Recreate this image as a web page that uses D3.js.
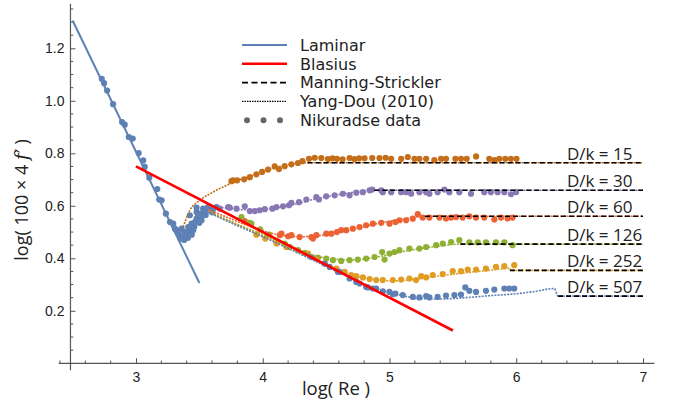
<!DOCTYPE html>
<html>
<head>
<meta charset="utf-8">
<script src="https://cdn.jsdelivr.net/npm/d3@7"></script>
<style>
  body { margin: 0; background: #fff; }
  svg text { fill: #222; }
</style>
</head>
<body>
<div id="chart"></div>
<script>
// Nikuradse friction-factor chart, log(Re) vs log(100 x 4f)

// --- data ---
var dkValues = [15, 30, 60, 126, 252, 507];
var dkColors = ["#C56E1A", "#8778B3", "#EB6235", "#8FB032", "#E19C24", "#5E81B5"];

// Manning-Strickler plateau level and where its dashed line starts
var msLevel = [0.764, 0.659, 0.560, 0.454, 0.354, 0.256];
var msStart = [4.354, 4.88, 5.28, 5.56, 5.95, 6.33];
var msEnd = 7;

var laminar = [[2.5, 1.306], [3.5, 0.306]];
var blasius = [[3.0, 0.75], [5.5, 0.125]];

// Yang-Dou (2010) curves, one per D/k
var yd15 = [[3.372,0.519],[3.425,0.583],[3.504,0.621],[3.596,0.649],[3.714,0.678],[3.806,0.697],[3.95,0.72],[4.1,0.745],[4.25,0.76],[4.354,0.764],[7,0.764]];
var yd30 = [[3.55,0.60],[3.7,0.592],[3.85,0.585],[4.0,0.586],[4.2,0.6],[4.4,0.624],[4.6,0.643],[4.75,0.654],[4.88,0.659],[7,0.659]];
var yd60 = [[3.57,0.585],[3.7,0.56],[3.85,0.53],[4.0,0.505],[4.15,0.487],[4.3,0.482],[4.5,0.49],[4.7,0.51],[4.9,0.532],[5.1,0.549],[5.28,0.56],[7,0.56]];
var yd126 = [[3.57,0.58],[3.8,0.53],[4.0,0.49],[4.2,0.45],[4.4,0.412],[4.55,0.397],[4.7,0.394],[4.9,0.405],[5.1,0.425],[5.3,0.441],[5.45,0.45],[5.56,0.454],[7,0.454]];
var yd252 = [[3.57,0.578],[3.8,0.527],[4.0,0.485],[4.2,0.441],[4.4,0.397],[4.6,0.353],[4.75,0.33],[4.9,0.318],[5.05,0.314],[5.2,0.32],[5.4,0.333],[5.6,0.345],[5.8,0.355],[5.95,0.362],[5.955,0.354],[7,0.354]];
var yd507 = [[3.57,0.575],[3.8,0.524],[4.0,0.482],[4.2,0.438],[4.4,0.392],[4.6,0.346],[4.8,0.302],[4.95,0.277],[5.1,0.258],[5.25,0.246],[5.4,0.245],[5.6,0.25],[5.8,0.258],[6.0,0.265],[6.15,0.274],[6.3,0.285],[6.33,0.256],[7,0.256]];

// Nikuradse measurements
var nik15 = [[3.753,0.694],[3.766,0.697],[3.798,0.697],[3.853,0.701],[3.898,0.709],[3.95,0.720],[3.995,0.729],[4.042,0.738],[4.094,0.750],[4.128,0.740],[4.173,0.751],[4.226,0.758],[4.278,0.763],[4.313,0.770],[4.365,0.779],[4.41,0.783],[4.462,0.782],[4.514,0.778],[4.55,0.781],[4.585,0.779],[4.63,0.777],[4.685,0.782],[4.724,0.778],[4.76,0.781],[4.803,0.781],[4.864,0.782],[4.921,0.782],[4.969,0.783],[5.013,0.779],[5.092,0.779],[5.144,0.786],[5.197,0.779],[5.236,0.779],[5.289,0.779],[5.354,0.774],[5.407,0.779],[5.446,0.779],[5.52,0.779],[5.564,0.779],[5.609,0.779],[5.683,0.788],[5.787,0.779],[5.827,0.774],[5.866,0.779],[5.913,0.779],[5.958,0.779],[6.002,0.779]];
var nik30 = [[3.661,0.589],[3.727,0.595],[3.74,0.593],[3.793,0.589],[3.858,0.598],[3.898,0.58],[3.937,0.58],[3.976,0.583],[4.016,0.587],[4.076,0.589],[4.108,0.595],[4.16,0.598],[4.207,0.602],[4.226,0.611],[4.286,0.614],[4.344,0.624],[4.423,0.633],[4.443,0.624],[4.501,0.636],[4.567,0.64],[4.632,0.646],[4.685,0.64],[4.738,0.65],[4.79,0.652],[4.843,0.659],[4.864,0.662],[4.935,0.659],[4.947,0.652],[5.013,0.652],[5.092,0.652],[5.131,0.652],[5.171,0.646],[5.236,0.652],[5.289,0.652],[5.315,0.646],[5.38,0.652],[5.433,0.662],[5.472,0.652],[5.551,0.652],[5.643,0.646],[5.748,0.652],[5.8,0.652],[5.853,0.652],[5.906,0.652],[5.958,0.644],[5.998,0.652]];
var nik60 = [[3.858,0.542],[4.134,0.488],[4.147,0.494],[4.2,0.484],[4.226,0.488],[4.291,0.481],[4.383,0.481],[4.396,0.475],[4.423,0.488],[4.501,0.494],[4.541,0.494],[4.585,0.5],[4.619,0.507],[4.659,0.507],[4.711,0.513],[4.764,0.519],[4.816,0.526],[4.869,0.532],[4.935,0.535],[5.0,0.532],[5.047,0.538],[5.079,0.545],[5.131,0.545],[5.184,0.551],[5.223,0.568],[5.262,0.555],[5.315,0.555],[5.394,0.555],[5.446,0.552],[5.486,0.555],[5.525,0.557],[5.577,0.555],[5.63,0.56],[5.683,0.555],[5.748,0.555],[5.827,0.548],[5.88,0.555],[5.932,0.552],[5.971,0.555]];
var nik126 = [[3.832,0.557],[3.892,0.535],[3.911,0.532],[3.98,0.51],[4.05,0.49],[4.12,0.462],[4.173,0.456],[4.213,0.443],[4.278,0.431],[4.331,0.421],[4.436,0.403],[4.501,0.399],[4.554,0.393],[4.619,0.39],[4.685,0.393],[4.75,0.395],[4.816,0.399],[4.882,0.405],[4.942,0.424],[4.961,0.395],[5.0,0.418],[5.039,0.424],[5.079,0.431],[5.157,0.437],[5.236,0.437],[5.289,0.443],[5.368,0.45],[5.42,0.456],[5.486,0.462],[5.551,0.469],[5.63,0.461],[5.696,0.461],[5.761,0.461],[5.84,0.461],[5.906,0.461],[5.971,0.45]];
var nik252 = [[3.95,0.49],[4.02,0.475],[4.108,0.456],[4.186,0.443],[4.357,0.418],[4.423,0.399],[4.488,0.38],[4.58,0.361],[4.646,0.348],[4.698,0.336],[4.738,0.332],[4.79,0.327],[4.843,0.321],[4.895,0.317],[4.947,0.317],[5.026,0.317],[5.092,0.319],[5.157,0.323],[5.21,0.317],[5.25,0.332],[5.289,0.327],[5.341,0.336],[5.42,0.34],[5.499,0.351],[5.564,0.351],[5.617,0.357],[5.683,0.357],[5.761,0.361],[5.84,0.367],[5.906,0.37],[5.984,0.374]];
var nik507 = [[2.730,1.084],[2.748,1.067],[2.772,1.039],[2.819,0.987],[2.890,0.919],[2.911,0.909],[2.943,0.862],[2.974,0.856],[3.021,0.801],[3.057,0.773],[3.069,0.748],[3.105,0.707],[3.168,0.664],[3.183,0.624],
  [3.202,0.621],[3.236,0.570],[3.268,0.538],[3.294,0.532],[3.307,0.513],[3.320,0.507],[3.333,0.5],[3.346,0.488],[3.35,0.475],[3.360,0.513],[3.372,0.481],[3.38,0.47],[3.386,0.5],[3.399,0.488],[3.41,0.478],[3.412,0.519],[3.425,0.507],[3.425,0.564],[3.438,0.532],[3.44,0.49],[3.451,0.507],[3.46,0.52],[3.465,0.538],[3.478,0.551],[3.478,0.576],[3.478,0.593],[3.491,0.564],[3.5,0.535],[3.504,0.570],[3.517,0.545],[3.52,0.56],[3.530,0.589],[3.543,0.576],[3.55,0.565],[3.556,0.589],[3.569,0.595],[3.583,0.583],[3.6,0.575],[3.609,0.589],[3.635,0.595],
  [4.383,0.405],[4.488,0.38],[4.528,0.367],[4.593,0.348],[4.606,0.348],[4.685,0.323],[4.738,0.31],[4.764,0.304],[4.816,0.291],[4.829,0.289],[4.869,0.285],[4.895,0.285],[4.947,0.274],[5.0,0.272],[5.026,0.263],[5.047,0.266],[5.105,0.26],[5.184,0.253],[5.236,0.251],[5.289,0.256],[5.315,0.251],[5.38,0.253],[5.446,0.258],[5.512,0.26],[5.564,0.262],[5.598,0.289],[5.63,0.276],[5.683,0.272],[5.761,0.276],[5.827,0.281],[5.906,0.285],[5.945,0.285],[5.984,0.285]];

var ydCurves = [yd15, yd30, yd60, yd126, yd252, yd507];
var nikData = [nik15, nik30, nik60, nik126, nik252, nik507];

var xMajor = [3, 4, 5, 6, 7];
var yMajor = [0.2, 0.4, 0.6, 0.8, 1.0, 1.2];

var legendNames = ["Laminar", "Blasius", "Manning-Strickler", "Yang-Dou (2010)", "Nikuradse data"];

// --- drawing ---
var w = 678, h = 408;
var svg = d3.select("#chart").append("svg").attr("width", w).attr("height", h);

var x = d3.scaleLinear().domain([3, 7]).range([136, 643]);
var y = d3.scaleLinear().domain([0, 1.2]).range([363.3, 48.3]);

var fontTicks = "'Liberation Sans', Arial, sans-serif";
var fontText = "'Open Sans', sans-serif";
var fontLegend = "'DejaVu Sans', sans-serif";

// minor ticks
var xMinor = d3.range(2.4, 7.01, 0.2).filter(v => Math.abs(v - Math.round(v)) > 0.01);
var yMinor = d3.range(0.05, 1.36, 0.05).filter(v => Math.abs(v * 5 - Math.round(v * 5)) > 0.01);

var axisX = d3.axisBottom(x).tickValues(xMajor).tickFormat(d3.format("d")).tickSizeInner(-5).tickSizeOuter(0).tickPadding(9);
var gx = svg.append("g").attr("transform", "translate(0," + y(0) + ")").call(axisX);
gx.select(".domain").remove();
gx.selectAll("text").attr("font-size", 14).attr("font-family", fontTicks).attr("fill", "#222");
gx.selectAll("line").attr("stroke", "#555");
gx.selectAll(".minor").data(xMinor).enter().append("line")
  .attr("x1", d => x(d)).attr("x2", d => x(d)).attr("y1", 0).attr("y2", -2.8)
  .attr("stroke", "#555");
gx.append("line").attr("x1", x(2.39)).attr("x2", x(7.09)).attr("y1", 0).attr("y2", 0).attr("stroke", "#555").attr("stroke-width", 1.2);

var yAxisAt = 2.483;
var axisY = d3.axisLeft(y).tickValues(yMajor).tickFormat(d3.format(".1f")).tickSizeInner(-5).tickSizeOuter(0).tickPadding(6);
var gy = svg.append("g").attr("transform", "translate(" + x(yAxisAt) + ",0)").call(axisY);
gy.select(".domain").remove();
gy.selectAll("text").attr("font-size", 14).attr("font-family", fontTicks).attr("fill", "#222");
gy.selectAll("line").attr("stroke", "#555");
gy.selectAll(".minor").data(yMinor).enter().append("line")
  .attr("y1", d => y(d)).attr("y2", d => y(d)).attr("x1", 0).attr("x2", 2.8)
  .attr("stroke", "#555");
gy.append("line").attr("y1", y(-0.026)).attr("y2", y(1.37)).attr("x1", 0).attr("x2", 0).attr("stroke", "#555").attr("stroke-width", 1.2);

// axis labels
svg.append("text").attr("x", 336).attr("y", 395).attr("text-anchor", "middle")
  .attr("font-family", fontText).attr("font-size", 18.5).text("log( Re )");
var yl = svg.append("text").attr("transform", "translate(28,200) rotate(-90)").attr("text-anchor", "middle")
  .attr("font-family", fontText).attr("font-size", 18);
yl.append("tspan").text("log( 100 \u00d7 4 ");
yl.append("tspan").attr("font-style", "italic").attr("font-family", "'DejaVu Serif', serif").text("f");
yl.append("tspan").text("\u2032 )");

var line = d3.line().x(d => x(d[0])).y(d => y(d[1]));

// Nikuradse dots
nikData.forEach(function(pts, i) {
  svg.append("g").selectAll("circle").data(pts).enter().append("circle")
    .attr("cx", d => x(d[0])).attr("cy", d => y(d[1])).attr("r", 3.1)
    .attr("fill", dkColors[i]);
});

// Yang-Dou curves
var ydLine = d3.line().x(d => x(d[0])).y(d => y(d[1])).curve(d3.curveMonotoneX);
ydCurves.forEach(function(pts, i) {
  svg.append("path").datum(pts).attr("d", ydLine)
    .attr("fill", "none").attr("stroke", dkColors[i]).attr("stroke-width", 1.6)
    .attr("stroke-dasharray", "2,1.2");
});

// Manning-Strickler dashed lines + labels
dkValues.forEach(function(dk, i) {
  svg.append("line").attr("x1", x(msStart[i])).attr("x2", x(msEnd))
    .attr("y1", y(msLevel[i])).attr("y2", y(msLevel[i]))
    .attr("stroke", "#000").attr("stroke-width", 1.6).attr("stroke-dasharray", "5,3");
  svg.append("text").attr("x", x(6.4)).attr("y", y(msLevel[i]) - 3)
    .attr("font-family", fontText).attr("font-size", 17).text("D/k = " + dk);
});

// Laminar and Blasius
svg.append("path").datum(laminar).attr("d", line).attr("fill", "none")
  .attr("stroke", "#5E81B5").attr("stroke-width", 2);
svg.append("path").datum(blasius).attr("d", line).attr("fill", "none")
  .attr("stroke", "#FF0000").attr("stroke-width", 2.6);

// legend
var lg = svg.append("g").attr("transform", "translate(242,45)");
var rowH = 18.8;
legendNames.forEach(function(name, i) {
  var yy = i * rowH;
  if (i === 0) lg.append("line").attr("x1", 0).attr("x2", 45).attr("y1", yy).attr("y2", yy).attr("stroke", "#5E81B5").attr("stroke-width", 2);
  if (i === 1) lg.append("line").attr("x1", 0).attr("x2", 45).attr("y1", yy).attr("y2", yy).attr("stroke", "#FF0000").attr("stroke-width", 2.6);
  if (i === 2) lg.append("line").attr("x1", 0).attr("x2", 45).attr("y1", yy).attr("y2", yy).attr("stroke", "#000").attr("stroke-width", 1.6).attr("stroke-dasharray", "6,3.5");
  if (i === 3) lg.append("line").attr("x1", 0).attr("x2", 45).attr("y1", yy).attr("y2", yy).attr("stroke", "#000").attr("stroke-width", 1.2).attr("stroke-dasharray", "1.5,1");
  if (i === 4) [5, 21.5, 38].forEach(function(cx) {
    lg.append("circle").attr("cx", cx).attr("cy", yy).attr("r", 3).attr("fill", "#666");
  });
  lg.append("text").attr("x", 58).attr("y", yy).attr("dy", "0.36em")
    .attr("font-family", fontLegend).attr("font-size", 16).text(name);
});
</script>
</body>
</html>
